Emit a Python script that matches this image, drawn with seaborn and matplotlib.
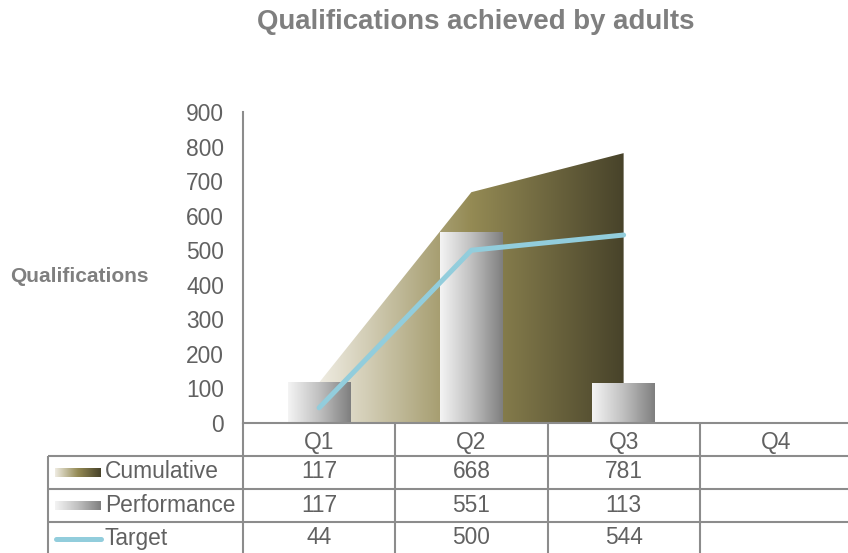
import numpy as np
import pandas as pd
import matplotlib
matplotlib.use("Agg")
import matplotlib.pyplot as plt
import seaborn as sns
from matplotlib.colors import LinearSegmentedColormap
from matplotlib.transforms import blended_transform_factory
from matplotlib.lines import Line2D

# ---------------- data ----------------
quarters = ["Q1", "Q2", "Q3", "Q4"]
cumulative = [117, 668, 781]
performance = [117, 551, 113]
target = [44, 500, 544]
series_names = ["Cumulative", "Performance", "Target"]
y_ticks = [0, 100, 200, 300, 400, 500, 600, 700, 800, 900]
title = "Qualifications achieved by adults"
y_label = "Qualifications"

# ---------------- style ----------------
sns.set_theme(style="white")
plt.rcParams['font.family'] = ['Liberation Sans', 'DejaVu Sans']

TXT = '#616161'
GRID = '#8c8c8c'
FS = 16.4

W, H = 848, 553
fig = plt.figure(figsize=(W / 100, H / 100), dpi=100)
AX_L, AX_R, AX_T, AX_B = 243, 852, 112, 423
ax = fig.add_axes([AX_L / W, (H - AX_B) / H, (AX_R - AX_L) / W, (AX_B - AX_T) / H])

def ax_x(px):
    return (px - AX_L) / (AX_R - AX_L)

def ax_y(py):
    return (AX_B - py) / (AX_B - AX_T)

grad = np.linspace(0, 1, 256).reshape(1, -1)
area_cmap = LinearSegmentedColormap.from_list('area', ['#efece2', '#948a54', '#48432a'])
bar_cmap = LinearSegmentedColormap.from_list('bar', ['#f4f4f4', '#c0c0c0', '#7f7f7f'])

# ---------------- area (Cumulative) ----------------
xs = np.arange(len(cumulative))
poly = ax.fill_between(xs, 0, cumulative, facecolor='none', edgecolor='none', zorder=1)
im = ax.imshow(grad, cmap=area_cmap, extent=[xs[0], xs[-1], 0, max(cumulative)],
               aspect='auto', origin='lower', zorder=1, interpolation='bilinear')
im.set_clip_path(poly.get_paths()[0], transform=ax.transData)

# ---------------- bars (Performance) ----------------
df = pd.DataFrame({"quarter": quarters[:len(performance)], "value": performance})
sns.barplot(data=df, x="quarter", y="value", order=quarters, width=0.41,
            color='white', errorbar=None, ax=ax, zorder=2)
for p in list(ax.patches):
    x0, w, h = p.get_x(), p.get_width(), p.get_height()
    if not np.isfinite(h) or h == 0:
        continue
    p.set_facecolor('none')
    p.set_edgecolor('none')
    ax.imshow(grad, cmap=bar_cmap, extent=[x0, x0 + w, 0, h], aspect='auto',
              origin='lower', zorder=2, interpolation='bilinear')

# ---------------- line (Target) ----------------
sns.lineplot(x=np.arange(len(target)), y=target, color='#92cddc', linewidth=3.6,
             ax=ax, zorder=3, solid_capstyle='round', solid_joinstyle='round')

# ---------------- axes ----------------
ax.set_xlim(-0.5, len(quarters) - 0.5)
ax.set_ylim(0, 900)
ax.set_yticks(y_ticks)
ax.set_yticklabels([str(v) for v in y_ticks])
ax.set_xticks(range(len(quarters)))
ax.set_xticklabels(quarters)
ax.tick_params(axis='both', length=0, labelsize=FS, colors=TXT)
ax.tick_params(axis='y', pad=13.5)
ax.tick_params(axis='x', pad=6)
ax.set_xlabel('')
ax.set_ylabel(y_label, rotation=0, fontsize=15, fontweight='bold', color='#7f7f7f',
              ha='center', va='center')
ax.yaxis.set_label_coords(ax_x(79), ax_y(276))
for s in ['top', 'right']:
    ax.spines[s].set_visible(False)
for s in ['left', 'bottom']:
    ax.spines[s].set_color(GRID)
    ax.spines[s].set_linewidth(1.5)
ax.set_facecolor('white')
ax.grid(False)

fig.text(476 / W, 1 - 22 / H, title, ha='center', va='center', fontsize=19.9,
         fontweight='bold', color='#7f7f7f')

# ---------------- data table ----------------
rows_px = [423, 456, 489, 522, 555]
left_px = 48
btf = blended_transform_factory(ax.transData, ax.transAxes)
lkw = dict(color=GRID, linewidth=1.5, clip_on=False, solid_capstyle='butt')
# column separators (category boundaries)
for b in np.arange(len(quarters) - 1) + 0.5:
    ax.add_line(Line2D([b, b], [0, ax_y(rows_px[-1])], transform=btf, **lkw))
# axis extension and left border
ax.add_line(Line2D([0, 0], [0, ax_y(rows_px[-1])], transform=ax.transAxes, **lkw))
ax.add_line(Line2D([ax_x(left_px)] * 2, [ax_y(rows_px[1]), ax_y(rows_px[-1])],
                   transform=ax.transAxes, **lkw))
for r in rows_px[1:]:
    ax.add_line(Line2D([ax_x(left_px), 1.0], [ax_y(r)] * 2, transform=ax.transAxes, **lkw))

table_values = [cumulative, performance, target]
for i, (name, vals) in enumerate(zip(series_names, table_values)):
    ytop, ybot = rows_px[i + 1], rows_px[i + 2]
    yc = ax_y((ytop + ybot) / 2 - 0.5)
    ax.text(ax_x(105), yc, name, transform=ax.transAxes, ha='left', va='center',
            fontsize=FS, color=TXT, clip_on=False)
    for j, v in enumerate(vals):
        ax.text(j, yc, str(v), transform=btf, ha='center', va='center',
                fontsize=FS, color=TXT, clip_on=False)
    # legend keys
    ky0 = ax_y((ytop + ybot) / 2 + 4.5)
    ky1 = ax_y((ytop + ybot) / 2 - 4.5)
    if name == "Target":
        ax.add_line(Line2D([ax_x(56), ax_x(101)], [ax_y((ytop + ybot) / 2 + 0.5)] * 2,
                           transform=ax.transAxes, color='#92cddc', linewidth=3.6,
                           solid_capstyle='round', clip_on=False))
    else:
        cm = area_cmap if name == "Cumulative" else bar_cmap
        kim = ax.imshow(grad, cmap=cm, extent=[ax_x(55), ax_x(101), ky0, ky1],
                        transform=ax.transAxes, aspect='auto', origin='lower',
                        interpolation='bilinear', clip_on=False, zorder=4)

ax.set_xlim(-0.5, len(quarters) - 0.5)
ax.set_ylim(0, 900)

fig.savefig("out.png", dpi=100, facecolor='white')
